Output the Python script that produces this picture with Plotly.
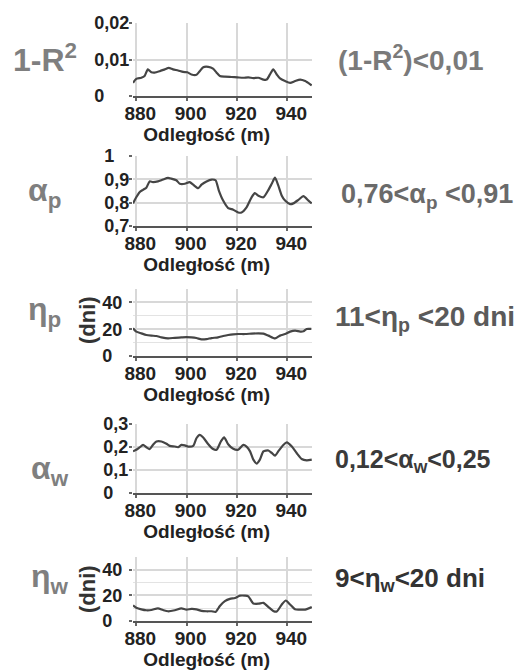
import plotly.graph_objects as go

# ---- data ----
x_r2 = [878.7, 880.0, 882.0, 883.3, 884.6, 886.0, 887.3, 889.3, 891.3, 892.9, 894.6, 896.6, 898.6,
        900.3, 901.9, 903.9, 905.2, 906.6, 908.6, 910.5, 911.9, 913.2, 915.2, 917.8, 920.2, 922.5,
        924.5, 926.5, 928.5, 930.5, 931.8, 933.1, 934.4, 935.8, 937.1, 939.1, 941.1, 943.1, 945.1,
        947.1, 949.1, 949.7]
r2 = [0.0036, 0.0047, 0.0050, 0.0055, 0.0073, 0.0065, 0.0064, 0.0068, 0.0073, 0.0077, 0.0073,
      0.0070, 0.0066, 0.0065, 0.0059, 0.0058, 0.0068, 0.0079, 0.0080, 0.0075, 0.0064, 0.0055,
      0.0053, 0.0052, 0.0051, 0.0050, 0.0051, 0.0049, 0.0050, 0.0045, 0.0045, 0.0059, 0.0073,
      0.0059, 0.0048, 0.0041, 0.0036, 0.0041, 0.0045, 0.0041, 0.0032, 0.0029]

x_ap = [878.7, 880.0, 881.3, 882.7, 884.0, 885.3, 886.6, 888.6, 890.6, 892.6, 893.9, 895.9, 897.3,
        899.3, 901.2, 902.6, 904.6, 905.9, 907.9, 909.9, 911.5, 912.8, 914.5, 916.5, 918.5, 920.5,
        921.8, 923.8, 925.8, 927.1, 928.5, 930.5, 932.5, 933.8, 935.1, 936.4, 937.8, 939.1, 941.1,
        942.4, 944.4, 946.4, 948.4, 949.7]
alpha_p = [0.797, 0.823, 0.845, 0.855, 0.864, 0.891, 0.888, 0.891, 0.899, 0.906, 0.903, 0.896,
           0.881, 0.881, 0.888, 0.877, 0.862, 0.877, 0.891, 0.899, 0.896, 0.852, 0.809, 0.777,
           0.770, 0.758, 0.758, 0.780, 0.823, 0.841, 0.830, 0.823, 0.855, 0.881, 0.907, 0.874,
           0.830, 0.809, 0.794, 0.797, 0.812, 0.828, 0.809, 0.797]

x_ep = [878.7, 880.0, 882.0, 884.0, 886.0, 888.0, 890.0, 892.6, 895.3, 897.9, 899.9, 901.9, 903.9,
        905.9, 907.9, 909.9, 912.5, 914.5, 916.5, 918.5, 920.5, 923.2, 925.8, 928.5, 930.5, 932.5,
        935.1, 937.1, 939.1, 941.1, 943.1, 945.1, 946.4, 947.7, 949.5]
eta_p = [20.7, 18.2, 16.9, 15.7, 15.2, 14.9, 13.9, 13.1, 13.6, 13.9, 14.1, 13.9, 13.4, 12.4, 12.6,
         13.4, 13.9, 14.9, 15.7, 16.2, 16.4, 16.4, 16.7, 16.9, 16.7, 15.2, 13.1, 15.2, 16.4, 18.2,
         18.9, 18.2, 18.4, 20.2, 20.2]

x_aw = [878.7, 880.0, 881.3, 882.7, 884.0, 885.3, 886.6, 888.0, 890.0, 892.0, 893.3, 895.3, 896.6,
        897.9, 899.3, 900.6, 902.6, 903.9, 905.2, 906.6, 908.6, 910.5, 911.9, 913.6, 914.9, 916.5,
        918.5, 920.5, 922.5, 923.8, 925.2, 926.5, 927.8, 929.1, 930.5, 932.5, 933.8, 935.1, 936.4,
        938.4, 939.8, 941.8, 943.7, 945.7, 947.7, 949.7]
alpha_w = [0.181, 0.188, 0.198, 0.209, 0.199, 0.191, 0.209, 0.224, 0.224, 0.214, 0.205, 0.202,
           0.199, 0.209, 0.207, 0.202, 0.205, 0.238, 0.253, 0.241, 0.212, 0.191, 0.188, 0.224,
           0.242, 0.212, 0.192, 0.188, 0.209, 0.202, 0.181, 0.145, 0.128, 0.145, 0.181, 0.185,
           0.174, 0.162, 0.181, 0.209, 0.220, 0.202, 0.174, 0.148, 0.142, 0.145]

x_ew = [878.7, 880.0, 882.0, 884.0, 886.0, 888.6, 890.6, 892.6, 895.3, 897.9, 899.9, 901.9, 903.9,
        905.9, 907.9, 909.9, 911.5, 913.2, 915.2, 917.2, 919.2, 921.2, 923.2, 924.5, 926.5, 928.5,
        930.5, 932.5, 934.4, 935.8, 937.8, 939.4, 941.1, 943.1, 945.1, 947.1, 949.7]
eta_w = [12.2, 10.4, 9.1, 8.4, 8.6, 9.9, 8.6, 7.6, 8.4, 9.9, 8.9, 9.4, 9.1, 7.9, 7.6, 7.6, 7.1,
         11.7, 15.5, 17.3, 18.0, 19.8, 19.8, 19.3, 13.7, 13.5, 14.2, 10.9, 7.9, 7.4, 12.9, 16.0,
         12.9, 9.1, 8.9, 8.9, 10.9]

x_ticks = [880, 900, 920, 940]
x_ticklabels = ["880", "900", "920", "940"]
x_title = "Odległość (m)"

y_ticks = [[0, 0.01, 0.02], [0.7, 0.8, 0.9, 1.0], [0, 20, 40], [0, 0.1, 0.2, 0.3], [0, 20, 40]]
y_ticklabels = [["0", "0,01", "0,02"], ["0,7", "0,8", "0,9", "1"], ["0", "20", "40"],
                ["0", "0,1", "0,2", "0,3"], ["0", "20", "40"]]
y_ranges = [[0, 0.02], [0.7, 1.0], [0, 50], [0, 0.3], [0, 50]]

left_labels = ["1-R<sup>2</sup>", "α<sub>p</sub>", "η<sub>p</sub>", "α<sub>w</sub>", "η<sub>w</sub>"]
right_labels = ["(1-R<sup>2</sup>)<0,01", "0,76<α<sub>p</sub> <0,91", "11<η<sub>p</sub> <20 dni",
                "0,12<α<sub>w</sub><0,25", "9<η<sub>w</sub><20 dni"]
unit_label = "(dni)"

series = [(x_r2, r2), (x_ap, alpha_p), (x_ep, eta_p), (x_aw, alpha_w), (x_ew, eta_w)]

# ---- layout geometry (pixels) ----
W, H = 523, 670
x_left, x_right = 133, 312
panels_px = [(23, 96), (156, 226), (289, 356), (424, 493), (557, 621)]
left_label_y = [58, 192, 312, 470, 578]
left_label_x = [45, 44, 44, 50, 50]
right_label_y = [58, 196, 318, 461, 579]
right_label_x = [336, 339, 333, 333, 333]
right_sizes = [28, 27, 28, 25, 26]
right_colors = ["#7a7a7a", "#6a6a6a", "#5a5a5a", "#3a3a3a", "#333333"]
unit_y = [None, None, 320, None, 589]
y_label_standoff = [-4, -4, 3, -3, 3]

FONT = "Liberation Sans"
FIG_SP = "\u2007"   # digit-width space
PUN_SP = "\u2008"   # punctuation-width space
ZW = "\u200b"       # zero-width char keeps trailing spaces from being trimmed


def left_align(labels):
    """Pad tick labels on the right so they appear left-aligned like the original."""
    widest = max(labels, key=len)
    out = []
    for lab in labels:
        pad = ""
        for ch in widest[len(lab):]:
            pad += PUN_SP if ch in ",." else FIG_SP
        out.append(lab + pad)
    return out


fig = go.Figure()
annotations = []
for i, (xs, ys) in enumerate(series):
    n = "" if i == 0 else str(i + 1)
    fig.add_trace(go.Scatter(x=xs, y=ys, mode="lines", xaxis="x" + n, yaxis="y" + n,
                             line=dict(color="#454545", width=2.2, shape="spline", smoothing=0.6),
                             showlegend=False, hoverinfo="skip"))
    top, bot = panels_px[i]
    dom_y = [1 - bot / H, 1 - top / H]
    yax = dict(domain=dom_y, range=y_ranges[i], tickvals=y_ticks[i],
               ticktext=left_align(y_ticklabels[i]),
               showgrid=True, gridcolor="#d8d8d8", gridwidth=1.5, zeroline=False, showline=False,
               ticks="outside", ticklen=3, tickwidth=2, tickcolor="#666", anchor="x" + n,
               automargin=False, ticklabelstandoff=y_label_standoff[i],
               tickfont=dict(family=FONT, size=18, color="#222", weight="bold"), fixedrange=True)
    if i in (2, 4):
        yax["minor"] = dict(dtick=10, showgrid=True, gridcolor="#e3e3e3", gridwidth=1, ticks="")
    xax = dict(domain=[x_left / W, x_right / W], range=[878.7, 949.8], tickvals=x_ticks,
               ticktext=x_ticklabels, showgrid=True, gridcolor="#d8d8d8", gridwidth=1.5,
               zeroline=False, showline=True, linecolor="#555", linewidth=2, ticks="outside",
               ticklen=3, tickwidth=1.5, tickcolor="#666", anchor="y" + n, automargin=False,
               ticklabelstandoff=-4, ticklabelshift=4,
               tickfont=dict(family=FONT, size=19, color="#222", weight="bold"),
               title=dict(text=x_title + FIG_SP * 3 + ZW, standoff=0,
                          font=dict(family=FONT, size=19, color="#222", weight="bold")),
               fixedrange=True)
    fig.layout["xaxis" + n] = xax
    fig.layout["yaxis" + n] = yax

    annotations.append(dict(text=left_labels[i], x=left_label_x[i] / W, y=1 - left_label_y[i] / H,
                            xref="paper", yref="paper", xanchor="center", yanchor="middle",
                            showarrow=False,
                            font=dict(family=FONT, size=32, color="#7f7f7f", weight="bold")))
    annotations.append(dict(text=right_labels[i], x=right_label_x[i] / W, y=1 - right_label_y[i] / H,
                            xref="paper", yref="paper", xanchor="left", yanchor="middle",
                            showarrow=False,
                            font=dict(family=FONT, size=right_sizes[i], color=right_colors[i],
                                      weight="bold")))
    if unit_y[i] is not None:
        annotations.append(dict(text=unit_label, x=87 / W, y=1 - unit_y[i] / H, xref="paper",
                                yref="paper", xanchor="center", yanchor="middle", textangle=-90,
                                showarrow=False,
                                font=dict(family=FONT, size=22, color="#333", weight="bold")))

fig.update_layout(width=W, height=H, margin=dict(l=0, r=0, t=0, b=0, autoexpand=False),
                  paper_bgcolor="white", plot_bgcolor="white", annotations=annotations,
                  showlegend=False)
fig.write_html("out.html", config=dict(displayModeBar=False),
               post_script="document.body.style.margin='0';document.body.style.overflow='hidden';")
